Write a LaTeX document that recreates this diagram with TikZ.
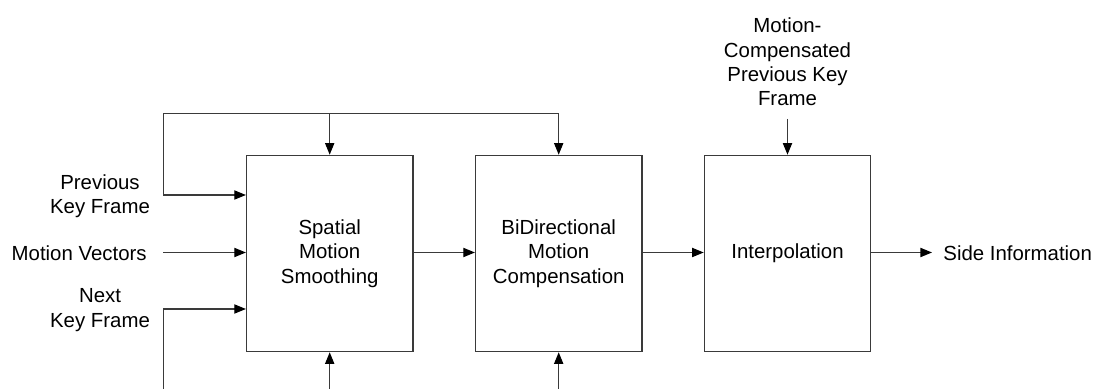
\documentclass[tikz,border=0pt]{standalone}
\usepackage{fontspec}
\setmainfont{Liberation Sans}
\usetikzlibrary{arrows.meta,calc}
\definecolor{wire}{HTML}{3A3A3A}
\begin{document}
\begin{tikzpicture}[x=0.5pt,y=-0.5pt,
  txt/.style={inner sep=0pt,align=center,font=\fontsize{10.2pt}{12.2pt}\selectfont,text=black},
  block/.style={draw=wire,line width=0.6pt,minimum width=83.2pt,minimum height=98.2pt,inner sep=0pt,
                align=center,font=\fontsize{10.2pt}{12.2pt}\selectfont},
  wireline/.style={draw=wire,line width=0.6pt},
  arr/.style={wireline,-{Triangle[length=5.8pt,width=4.6pt,color=black]}}]
\useasboundingbox (0,0) rectangle (1094,389);

% processing blocks
\node[block] (sms) at (329.7,253.5) {Spatial\\Motion\\Smoothing};
\node[block] (bmc) at (558.7,253.5) {BiDirectional\\Motion\\Compensation};
\node[block] (ip)  at (787.5,253.5) {Interpolation};

% input and output labels
\node[txt] (pkf) at (100,196) {Previous\\Key Frame};
\node[txt,anchor=east] (mv) at (147,253.5) {Motion Vectors};
\node[txt] (nkf) at (100,310) {Next\\Key Frame};
\node[txt] (mcp) at (787.5,62) {Motion-\\Compensated\\Previous Key\\Frame};
\node[txt,anchor=west] (si) at (943,253.5) {Side Information};

% routing points
\coordinate (pk) at (163.3,195);
\coordinate (tl) at (163.3,113.3);
\coordinate (nk) at (163.3,309);
\coordinate (nb) at (163.3,389);
\coordinate (mvs) at (163.3,252.5);
\coordinate (b1) at (329.7,389);
\coordinate (b2) at (558.7,389);
\coordinate (mct) at (787.5,119);
\coordinate (sie) at (932,252.5);

% previous key frame, fed to both blocks from above
\draw[arr] (tl) -- (pk) -- (sms.west |- pk);
\draw[wireline] (tl) -- (bmc.north |- tl);
\draw[arr] (sms.north |- tl) -- (sms.north);
\draw[arr] (bmc.north |- tl) -- (bmc.north);

% motion vectors
\draw[arr] (mvs) -- (sms.west |- mvs);

% next key frame, fed from below
\draw[arr] (nb) -- (nk) -- (sms.west |- nk);
\draw[arr] (b1) -- (sms.south);
\draw[arr] (b2) -- (bmc.south);

% main chain
\draw[arr] (sms.east |- mvs) -- (bmc.west |- mvs);
\draw[arr] (bmc.east |- mvs) -- (ip.west |- mvs);
\draw[arr] (mct) -- (ip.north);
\draw[arr] (ip.east |- mvs) -- (sie);
\end{tikzpicture}
\end{document}
